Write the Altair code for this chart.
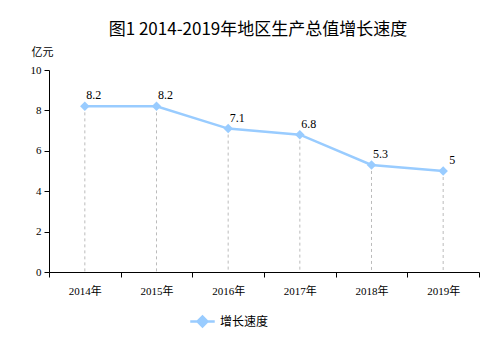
import altair as alt
import pandas as pd

years = ["2014年", "2015年", "2016年", "2017年", "2018年", "2019年"]
growth = [8.2, 8.2, 7.1, 6.8, 5.3, 5.0]
labels = ["8.2", "8.2", "7.1", "6.8", "5.3", "5"]
series = "增长速度"

df = pd.DataFrame({"year": years, "value": growth, "label": labels, "series": [series] * len(years)})

BLUE = "#99ccff"
SERIF = "Liberation Serif, Noto Sans CJK SC"

x = alt.X("year:N", sort=years,
          scale=alt.Scale(paddingInner=0, paddingOuter=0),
          axis=alt.Axis(title=None, tickBand="extent", labelAngle=0,
                        domainColor="black", tickColor="black", tickSize=5,
                        labelPadding=8, labelFont=SERIF, labelFontSize=11,
                        labelColor="black", grid=False))
y = alt.Y("value:Q", scale=alt.Scale(domain=[0, 10]),
          axis=alt.Axis(values=[0, 2, 4, 6, 8, 10], title="亿元", titleAngle=0,
                        titleX=-7, titleY=-18, titleAlign="center", titleBaseline="middle",
                        titleFont="Noto Sans CJK SC", titleFontSize=11, titleFontWeight="normal",
                        titleColor="black",
                        domainColor="black", tickColor="black", tickSize=5, labelPadding=3,
                        labelFont=SERIF, labelFontSize=11, labelColor="black", grid=False))

base = alt.Chart(df)

rules = base.mark_rule(color="#bbbbbb", strokeDash=[3, 3], strokeWidth=1).encode(
    x=x, y=alt.Y("value:Q"), y2=alt.datum(0))

line = base.mark_line(strokeWidth=2.5).encode(
    x=x, y=y,
    color=alt.Color("series:N", scale=alt.Scale(range=[BLUE]),
                    legend=alt.Legend(title=None, orient="none", legendX=140, legendY=238,
                                      symbolType="M-1,0L1,0M-0.4,0L0,-0.4L0.4,0L0,0.4Z",
                                      symbolSize=600, symbolStrokeWidth=2.5,
                                      symbolFillColor=BLUE, symbolStrokeColor=BLUE,
                                      labelFont="Noto Sans CJK SC", labelFontSize=12,
                                      labelColor="black", labelOffset=4)))

points = base.mark_point(shape="diamond", filled=True, size=90, color=BLUE, opacity=1).encode(
    x=x, y="value:Q")

text = base.mark_text(dx=9, dy=-11, font="Liberation Serif", fontSize=12, color="black").encode(
    x=x, y="value:Q", text="label:N")

chart = alt.layer(rules, line, points, text).properties(
    width=430, height=202,
    title=alt.TitleParams("图1 2014-2019年地区生产总值增长速度", font="Noto Sans CJK SC",
                          fontSize=17, fontWeight="normal", color="black", anchor="middle",
                          dx=-6, offset=7),
    autosize=alt.AutoSizeParams(type="none"),
    padding={"left": 49, "top": 70, "right": 22, "bottom": 80},
).configure(background="white", view=alt.ViewConfig(stroke=None))

chart.save("out.html", embed_options={"renderer": "svg", "actions": False})
